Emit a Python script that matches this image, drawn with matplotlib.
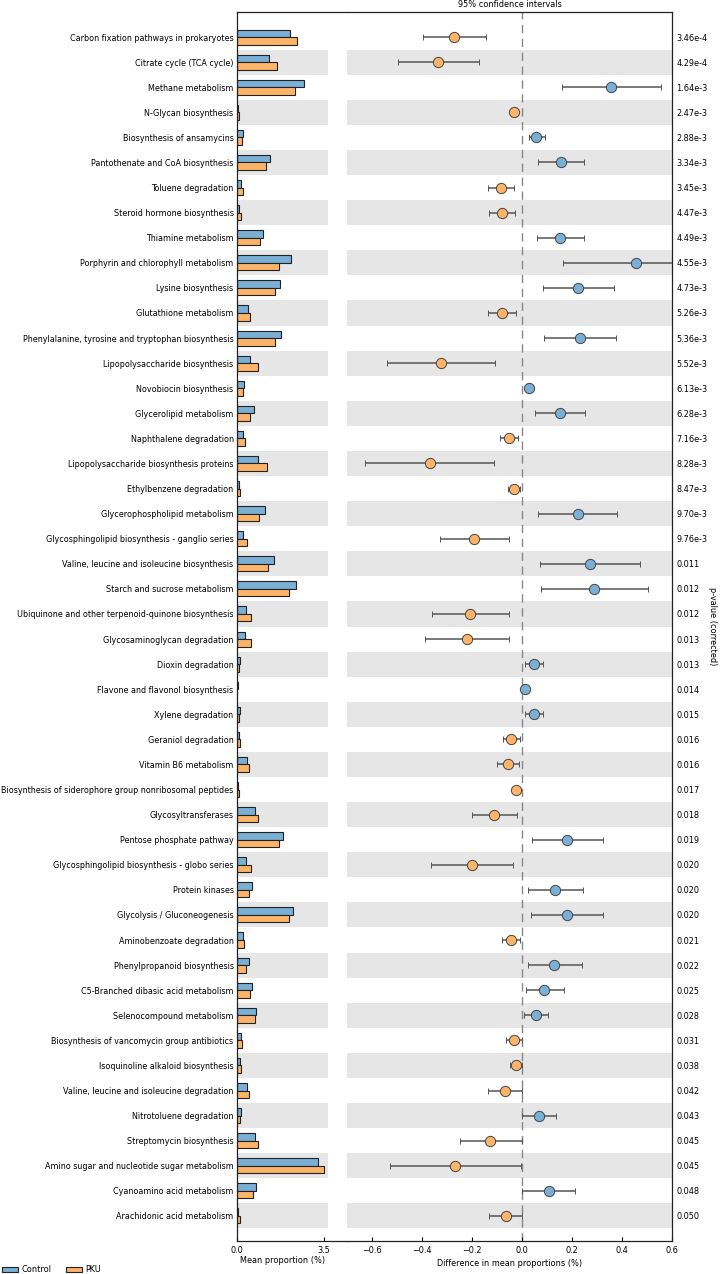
import numpy as np
import matplotlib

matplotlib.use("Agg")
import matplotlib.pyplot as plt
from matplotlib.patches import Patch


pathways = [
    "Carbon fixation pathways in prokaryotes",
    "Citrate cycle (TCA cycle)",
    "Methane metabolism",
    "N-Glycan biosynthesis",
    "Biosynthesis of ansamycins",
    "Pantothenate and CoA biosynthesis",
    "Toluene degradation",
    "Steroid hormone biosynthesis",
    "Thiamine metabolism",
    "Porphyrin and chlorophyll metabolism",
    "Lysine biosynthesis",
    "Glutathione metabolism",
    "Phenylalanine, tyrosine and tryptophan biosynthesis",
    "Lipopolysaccharide biosynthesis",
    "Novobiocin biosynthesis",
    "Glycerolipid metabolism",
    "Naphthalene degradation",
    "Lipopolysaccharide biosynthesis proteins",
    "Ethylbenzene degradation",
    "Glycerophospholipid metabolism",
    "Glycosphingolipid biosynthesis - ganglio series",
    "Valine, leucine and isoleucine biosynthesis",
    "Starch and sucrose metabolism",
    "Ubiquinone and other terpenoid-quinone biosynthesis",
    "Glycosaminoglycan degradation",
    "Dioxin degradation",
    "Flavone and flavonol biosynthesis",
    "Xylene degradation",
    "Geraniol degradation",
    "Vitamin B6 metabolism",
    "Biosynthesis of siderophore group nonribosomal peptides",
    "Glycosyltransferases",
    "Pentose phosphate pathway",
    "Glycosphingolipid biosynthesis - globo series",
    "Protein kinases",
    "Glycolysis / Gluconeogenesis",
    "Aminobenzoate degradation",
    "Phenylpropanoid biosynthesis",
    "C5-Branched dibasic acid metabolism",
    "Selenocompound metabolism",
    "Biosynthesis of vancomycin group antibiotics",
    "Isoquinoline alkaloid biosynthesis",
    "Valine, leucine and isoleucine degradation",
    "Nitrotoluene degradation",
    "Streptomycin biosynthesis",
    "Amino sugar and nucleotide sugar metabolism",
    "Cyanoamino acid metabolism",
    "Arachidonic acid metabolism",
]

p_values = [
    "3.46e-4", "4.29e-4", "1.64e-3", "2.47e-3", "2.88e-3", "3.34e-3",
    "3.45e-3", "4.47e-3", "4.49e-3", "4.55e-3", "4.73e-3", "5.26e-3",
    "5.36e-3", "5.52e-3", "6.13e-3", "6.28e-3", "7.16e-3", "8.28e-3",
    "8.47e-3", "9.70e-3", "9.76e-3", "0.011", "0.012", "0.012",
    "0.013", "0.013", "0.014", "0.015", "0.016", "0.016",
    "0.017", "0.018", "0.019", "0.020", "0.020", "0.020",
    "0.021", "0.022", "0.025", "0.028", "0.031", "0.038",
    "0.042", "0.043", "0.045", "0.045", "0.048", "0.050",
]

control_mean = [
    2.14, 1.27, 2.71, 0.05, 0.24, 1.33, 0.16, 0.08, 1.06, 2.17, 1.74, 0.43,
    1.77, 0.52, 0.28, 0.67, 0.24, 0.83, 0.08, 1.13, 0.23, 1.50, 2.39, 0.36,
    0.32, 0.12, 0.03, 0.11, 0.09, 0.42, 0.04, 0.72, 1.86, 0.36, 0.60, 2.25,
    0.24, 0.47, 0.62, 0.76, 0.15, 0.13, 0.40, 0.17, 0.72, 3.24, 0.75, 0.04,
]

pku_mean = [
    2.43, 1.61, 2.35, 0.08, 0.19, 1.17, 0.25, 0.16, 0.92, 1.70, 1.53, 0.52,
    1.53, 0.84, 0.25, 0.52, 0.31, 1.21, 0.12, 0.90, 0.42, 1.23, 2.09, 0.58,
    0.55, 0.07, 0.01, 0.07, 0.13, 0.47, 0.07, 0.83, 1.69, 0.56, 0.47, 2.08,
    0.28, 0.35, 0.54, 0.72, 0.19, 0.16, 0.47, 0.11, 0.84, 3.51, 0.64, 0.11,
]

diff_mean = [
    -0.271, -0.336, 0.356, -0.031, 0.057, 0.157, -0.084, -0.080, 0.152, 0.455,
    0.225, -0.081, 0.231, -0.324, 0.029, 0.151, -0.053, -0.369, -0.032, 0.223,
    -0.191, 0.273, 0.289, -0.207, -0.221, 0.048, 0.013, 0.047, -0.044, -0.056,
    -0.023, -0.111, 0.180, -0.200, 0.132, 0.180, -0.043, 0.129, 0.089, 0.055,
    -0.032, -0.025, -0.069, 0.069, -0.128, -0.267, 0.107, -0.065,
]

ci_low = [
    -0.397, -0.497, 0.160, -0.042, 0.027, 0.063, -0.136, -0.132, 0.059, 0.164,
    0.084, -0.136, 0.087, -0.540, 0.018, 0.051, -0.089, -0.627, -0.056, 0.063,
    -0.327, 0.072, 0.076, -0.361, -0.389, 0.013, 0.005, 0.013, -0.077, -0.099,
    -0.034, -0.201, 0.039, -0.363, 0.025, 0.035, -0.080, 0.023, 0.015, 0.007,
    -0.063, -0.048, -0.137, 0.001, -0.249, -0.527, 0.001, -0.131,
]

ci_high = [
    -0.143, -0.173, 0.557, -0.020, 0.091, 0.249, -0.031, -0.028, 0.247, 0.746,
    0.367, -0.025, 0.376, -0.109, 0.040, 0.251, -0.015, -0.112, -0.009, 0.381,
    -0.052, 0.473, 0.503, -0.052, -0.052, 0.083, 0.021, 0.083, -0.009, -0.011,
    -0.012, -0.020, 0.323, -0.035, 0.243, 0.323, -0.007, 0.239, 0.167, 0.103,
    -0.001, 0.000, -0.001, 0.137, -0.001, -0.005, 0.211, 0.000,
]

group_names = ["Control", "PKU"]

CONTROL_COLOR = "#7aafd6"
PKU_COLOR = "#fdb468"
BAND_COLOR = "#e6e6e6"
FONT_SIZE = 5.9
LABEL_SIZE = 5.75

W, H = 720, 1274


def main():
    n = len(pathways)
    y = np.arange(n)
    diff = np.asarray(diff_mean)
    low = np.asarray(ci_low)
    high = np.asarray(ci_high)

    plt.rcParams["font.family"] = ["DejaVu Sans"]
    plt.rcParams["font.size"] = FONT_SIZE

    fig = plt.figure(figsize=(W / 100, H / 100), dpi=100)

    bottom = 1 - 1241 / H
    height = 1229 / H
    ax_bar = fig.add_axes([237 / W, bottom, 110 / W, height])
    ax_diff = fig.add_axes([347 / W, bottom, 325 / W, height])

    # mean proportion bars
    band_width = 3.67
    bar_xmax = 4.42
    ax_bar.barh(y[1::2], band_width, height=1.0, color=BAND_COLOR, lw=0, zorder=0)
    ax_bar.barh(y - 0.15, control_mean, height=0.3, color=CONTROL_COLOR,
                edgecolor="#222222", lw=0.8, zorder=2)
    ax_bar.barh(y + 0.15, pku_mean, height=0.3, color=PKU_COLOR,
                edgecolor="#222222", lw=0.8, zorder=2)

    ax_bar.set_xlim(0, bar_xmax)
    ax_bar.set_ylim(n, -1)
    ax_bar.set_yticks(y)
    ax_bar.set_yticklabels(pathways, fontsize=LABEL_SIZE)
    ax_bar.set_xticks([0.0, 3.5])
    ax_bar.set_xticklabels(["0.0", "3.5"], fontsize=FONT_SIZE)
    ax_bar.tick_params(axis="y", length=0, pad=2.5)
    ax_bar.tick_params(axis="x", direction="in", length=3, pad=3.5, top=False)
    ax_bar.set_xlabel("Mean proportion (%)", fontsize=FONT_SIZE)
    ax_bar.xaxis.set_label_coords(band_width / 2 / bar_xmax, -0.012)
    ax_bar.spines["right"].set_visible(False)

    # difference in mean proportions with confidence intervals
    for i in y[1::2]:
        ax_diff.axhspan(i - 0.5, i + 0.5, color=BAND_COLOR, lw=0, zorder=0)

    ax_diff.axvline(0, color="#888888", lw=1.0, ls=(0, (6, 4)), zorder=1)

    for i in y:
        color = CONTROL_COLOR if diff[i] > 0 else PKU_COLOR
        ax_diff.errorbar(
            diff[i], i,
            xerr=[[diff[i] - low[i]], [high[i] - diff[i]]],
            fmt="o", ms=7.4, mfc=color, mec="#444444", mew=0.7,
            ecolor="#555555", elinewidth=1.1, capsize=2.0, capthick=1.0,
            zorder=3,
        )

    ax_diff.set_xlim(-0.7, 0.6)
    ax_diff.set_ylim(n, -1)
    ax_diff.set_xticks([-0.6, -0.4, -0.2, 0.0, 0.2, 0.4, 0.6])
    ax_diff.tick_params(axis="x", direction="in", length=3, pad=3.5,
                        labelsize=FONT_SIZE, top=False)
    ax_diff.set_xlabel("Difference in mean proportions (%)", fontsize=FONT_SIZE,
                       labelpad=3)
    ax_diff.yaxis.tick_right()
    ax_diff.set_yticks(y)
    ax_diff.set_yticklabels(p_values, fontsize=FONT_SIZE)
    ax_diff.tick_params(axis="y", length=0, pad=3, left=False)
    ax_diff.yaxis.set_label_position("right")
    ax_diff.set_ylabel("p-value (corrected)", fontsize=FONT_SIZE, rotation=270,
                       labelpad=7)
    ax_diff.spines["left"].set_visible(False)
    ax_diff.set_title("95% confidence intervals", fontsize=FONT_SIZE, pad=3.5)

    for ax in (ax_bar, ax_diff):
        for spine in ax.spines.values():
            spine.set_linewidth(0.9)
            spine.set_color("#222222")

    handles = [
        Patch(facecolor=CONTROL_COLOR, edgecolor="#222222", lw=0.8, label=group_names[0]),
        Patch(facecolor=PKU_COLOR, edgecolor="#222222", lw=0.8, label=group_names[1]),
    ]
    fig.legend(handles=handles, loc="lower left", bbox_to_anchor=(-0.004, -0.004),
               ncol=2, frameon=False, fontsize=FONT_SIZE, borderpad=0.1,
               handlelength=2.0, handleheight=0.6, handletextpad=0.4,
               columnspacing=1.7)

    fig.savefig("out.png", dpi=100)


if __name__ == "__main__":
    main()
